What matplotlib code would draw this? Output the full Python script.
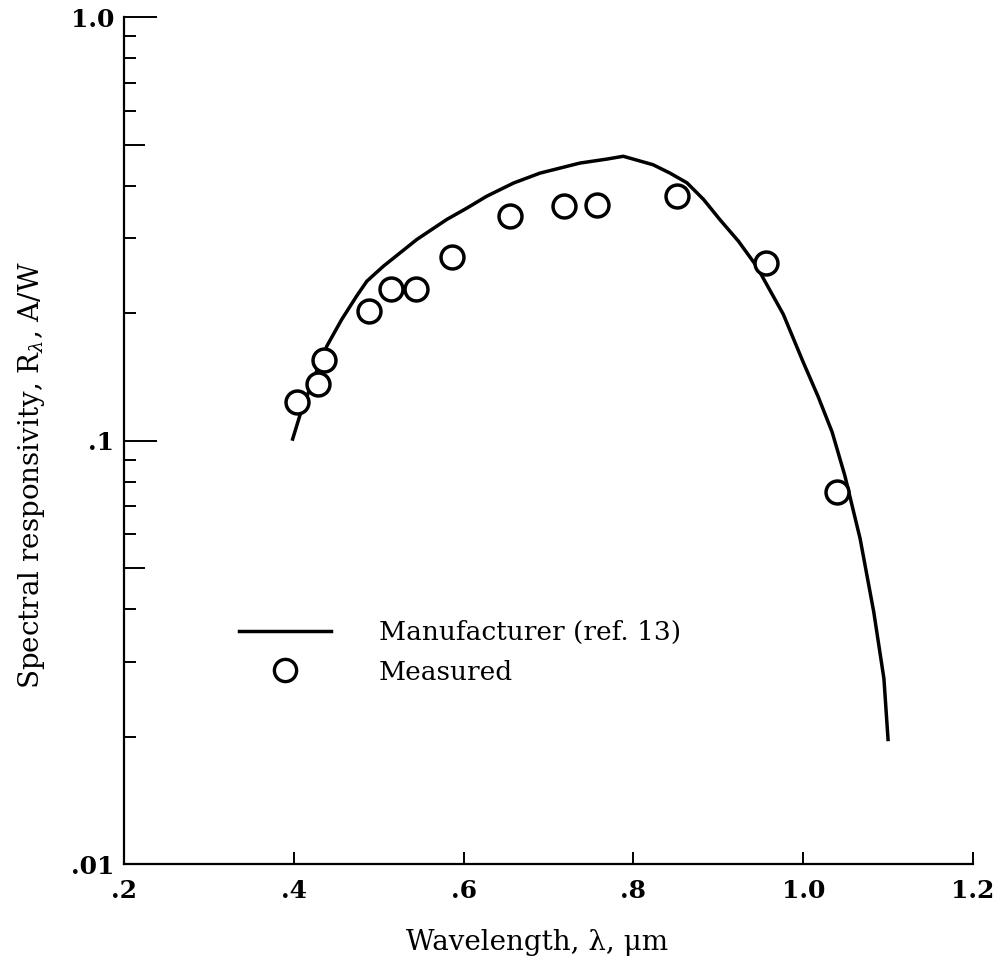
import matplotlib
matplotlib.use("Agg")
import matplotlib.pyplot as plt
from matplotlib.ticker import FixedLocator, NullFormatter
from matplotlib.lines import Line2D

plt.rcParams['font.family'] = ['DejaVu Serif']
plt.rcParams['mathtext.fontset'] = 'dejavuserif'

# manufacturer curve (ref. 13)
curve_wl = [0.398, 0.407, 0.423, 0.439, 0.4565, 0.474, 0.486, 0.5055, 0.5448,
            0.58, 0.604, 0.627, 0.659, 0.69, 0.737, 0.769, 0.788, 0.823, 0.843,
            0.863, 0.8825, 0.902, 0.9237, 0.945, 0.9765, 1.0, 1.0175, 1.034,
            1.049, 1.067, 1.083, 1.095, 1.10]
curve_r = [0.0999, 0.1144, 0.1396, 0.1673, 0.1933, 0.2194, 0.2378, 0.258, 0.2983,
           0.3325, 0.354, 0.3773, 0.4057, 0.428, 0.452, 0.462, 0.469, 0.448, 0.428,
           0.406, 0.371, 0.332, 0.2955, 0.258, 0.1986, 0.153, 0.127, 0.1047,
           0.0826, 0.0586, 0.0394, 0.0274, 0.0195]

# measured points
meas_wl = [0.404, 0.429, 0.435, 0.488, 0.515, 0.544, 0.586, 0.655, 0.718,
           0.757, 0.851, 0.956, 1.040]
meas_r = [0.1234, 0.1358, 0.1547, 0.2022, 0.2283, 0.2283, 0.2716, 0.3385,
          0.3573, 0.3607, 0.3773, 0.2629, 0.0755]

xticks = [0.2, 0.4, 0.6, 0.8, 1.0, 1.2]
xlabels = ['.2', '.4', '.6', '.8', '1.0', '1.2']
yticks = [0.01, 0.1, 1.0]
ylabels = ['.01', '.1', '1.0']

fig = plt.figure(figsize=(9.97, 9.56), dpi=100)
ax = fig.add_axes([0.1244, 0.0962, 0.8516, 0.886])

ax.plot(curve_wl, curve_r, color='black', lw=2.5, solid_joinstyle='round',
        solid_capstyle='butt')
ax.plot(meas_wl, meas_r, 'o', ms=16.5, mfc='white', mec='black', mew=2.5)

ax.set_yscale('log')
ax.set_xlim(0.2, 1.2)
ax.set_ylim(0.01, 1.0)

for s in ['top', 'right']:
    ax.spines[s].set_visible(False)
for s in ['left', 'bottom']:
    ax.spines[s].set_linewidth(1.6)

ax.set_xticks(xticks)
ax.set_xticklabels(xlabels, fontsize=18, fontweight='bold')
ax.set_yticks(yticks)
ax.set_yticklabels(ylabels, fontsize=18, fontweight='bold')
ax.tick_params(axis='x', direction='in', length=9, width=1.4, pad=11)
ax.tick_params(axis='y', which='major', direction='in', length=24, width=1.4, pad=7)

minor = [k * d for d in (0.01, 0.1) for k in range(2, 10) if k != 5]
ax.yaxis.set_minor_locator(FixedLocator(minor))
ax.yaxis.set_minor_formatter(NullFormatter())
ax.tick_params(axis='y', which='minor', direction='in', length=8.5, width=1.4)
# half-decade ticks a bit longer
for v in (0.05, 0.5):
    ax.plot([0.2, 0.2 + 0.0235], [v, v], color='black', lw=1.4, clip_on=False)

fig.text(537 / 997, 1 - 943 / 956, 'Wavelength, λ, μm', fontsize=20,
         ha='center', va='center')
fig.text(32 / 997, 1 - 475 / 956, 'Spectral responsivity, R$_\\lambda$, A/W',
         fontsize=20, rotation=90, ha='center', va='center')

handles = [Line2D([], [], color='black', lw=2.5),
           Line2D([], [], ls='none', marker='o', ms=16, mfc='white', mec='black', mew=2.4)]
ax.legend(handles, ['Manufacturer (ref. 13)', 'Measured'], loc='center left',
          bbox_to_anchor=(0.120, 0.250), frameon=False, fontsize=19,
          handlelength=3.5, handletextpad=1.8, labelspacing=0.55, borderpad=0)

fig.savefig('out.png', dpi=100)
